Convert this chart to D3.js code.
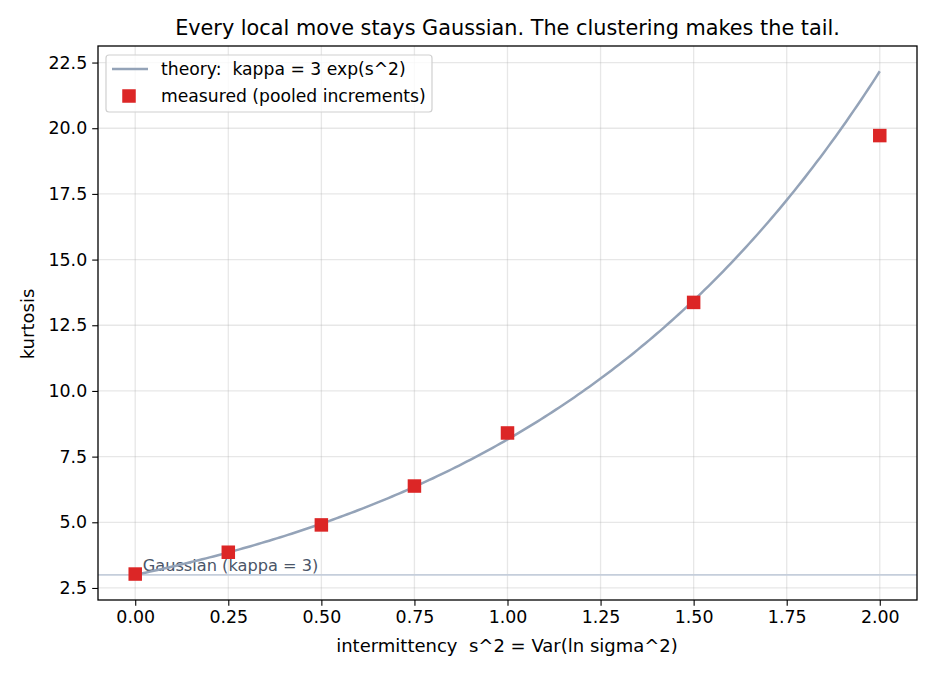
<!DOCTYPE html>
<html><head><meta charset="utf-8">
<script src="https://cdn.jsdelivr.net/npm/d3@7"></script>
<style>body{margin:0;background:#fff}svg{font-family:"DejaVu Sans",sans-serif}text{white-space:pre}</style>
</head><body>
<svg id="c" width="936" height="676"></svg>
<script>
const measuredS = [0, 0.25, 0.5, 0.75, 1.0, 1.5, 2.0];
const measuredK = [3.03, 3.86, 4.90, 6.38, 8.40, 13.37, 19.72];
const xTicks = [0, 0.25, 0.5, 0.75, 1.0, 1.25, 1.5, 1.75, 2.0];
const yTicks = [2.5, 5, 7.5, 10, 12.5, 15, 17.5, 20, 22.5];
const gaussK = 3;
const titleText = "Every local move stays Gaussian. The clustering makes the tail.";
const theory = s => 3 * Math.exp(s);  // kappa = 3 exp(s^2), s^2 on the x axis

const svg = d3.select("#c");
const L = 98, R = 917, T = 46, B = 600;
const x = d3.scaleLinear().domain([-0.1, 2.1]).range([L, R]);
const y = d3.scaleLinear().domain([2.042, 23.13]).range([B, T]);
const FS = 17.4, LFS = 18, GFS = 17.2;

// grid
const g = svg.append("g");
g.selectAll(".gx").data(xTicks).join("line")
  .attr("x1", d => x(d)).attr("x2", d => x(d)).attr("y1", T).attr("y2", B)
  .attr("stroke", "#b0b0b0").attr("stroke-opacity", 0.3).attr("stroke-width", 1.3);
g.selectAll(".gy").data(yTicks).join("line")
  .attr("y1", d => y(d)).attr("y2", d => y(d)).attr("x1", L).attr("x2", R)
  .attr("stroke", "#b0b0b0").attr("stroke-opacity", 0.3).attr("stroke-width", 1.3);

// gaussian line
svg.append("line").attr("x1", L).attr("x2", R).attr("y1", y(gaussK)).attr("y2", y(gaussK))
  .attr("stroke", "#c5cedb").attr("stroke-width", 1.7);
svg.append("text").attr("x", x(0.02)).attr("y", y(gaussK) - 4)
  .attr("font-size", 16.2).attr("fill", "#4a5568").text("Gaussian (kappa = 3)");

// theory curve
const grid = d3.range(0, 2.0001, 0.01);
svg.append("path").datum(grid)
  .attr("d", d3.line().x(d => x(d)).y(d => y(theory(d))))
  .attr("fill", "none").attr("stroke", "#94a3b8").attr("stroke-width", 2.5);

// measured points
const ms = 13.5;
svg.selectAll(".m").data(measuredS).join("rect")
  .attr("x", d => x(d) - ms / 2).attr("y", (d, i) => y(measuredK[i]) - ms / 2)
  .attr("width", ms).attr("height", ms).attr("fill", "#dc2626");

// axes
const xa = svg.append("g").attr("transform", `translate(0,${B})`)
  .call(d3.axisBottom(x).tickValues(xTicks).tickFormat(d3.format(".2f")).tickSize(5.8).tickPadding(5));
const ya = svg.append("g").attr("transform", `translate(${L},0)`)
  .call(d3.axisLeft(y).tickValues(yTicks).tickFormat(d3.format(".1f")).tickSize(5.8).tickPadding(5));
[xa, ya].forEach(a => {
  a.selectAll("text").attr("font-size", FS).attr("fill", "#000").attr("font-family", "DejaVu Sans");
  a.selectAll("line").attr("stroke", "#000").attr("stroke-width", 1.1);
  a.select(".domain").remove();
});
svg.append("rect").attr("x", L).attr("y", T).attr("width", R - L).attr("height", B - T)
  .attr("fill", "none").attr("stroke", "#000").attr("stroke-width", 1.3);

// labels
svg.append("text").attr("x", (L + R) / 2).attr("y", 35).attr("text-anchor", "middle")
  .attr("font-size", 20.8).text(titleText);
svg.append("text").attr("x", 507).attr("y", 652).attr("text-anchor", "middle")
  .attr("font-size", LFS).text("intermittency  s^2 = Var(ln sigma^2)");
svg.append("text").attr("transform", "translate(34,324) rotate(-90)").attr("text-anchor", "middle")
  .attr("font-size", LFS).text("kurtosis");

// legend
const lg = svg.append("g");
lg.append("rect").attr("x", 106).attr("y", 55).attr("width", 326).attr("height", 57).attr("rx", 3)
  .attr("fill", "#fff").attr("fill-opacity", 0.8).attr("stroke", "#d0d0d0").attr("stroke-width", 1.2);
lg.append("line").attr("x1", 112).attr("x2", 148).attr("y1", 69).attr("y2", 69)
  .attr("stroke", "#94a3b8").attr("stroke-width", 2.5);
lg.append("rect").attr("x", 129 - ms / 2).attr("y", 96 - ms / 2).attr("width", ms).attr("height", ms).attr("fill", "#dc2626");
lg.append("text").attr("x", 161).attr("y", 75).attr("font-size", GFS).text("theory:  kappa = 3 exp(s^2)");
lg.append("text").attr("x", 161).attr("y", 102).attr("font-size", GFS).text("measured (pooled increments)");
</script>
</body></html>
